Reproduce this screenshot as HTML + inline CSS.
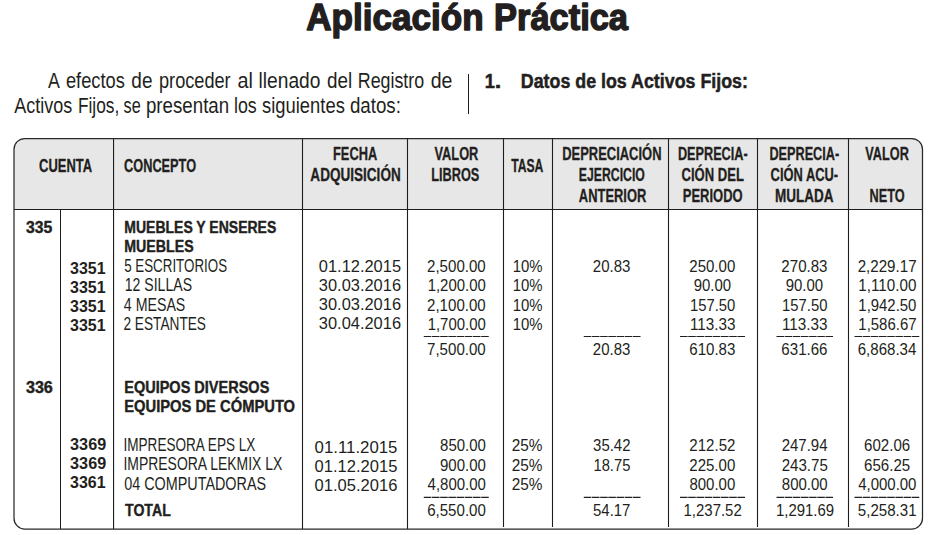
<!DOCTYPE html>
<html lang="es"><head><meta charset="utf-8"><title>Aplicación Práctica</title>
<style>html,body{margin:0;padding:0;background:#fff}body{width:929px;height:535px;overflow:hidden}svg{display:block}text{font-family:"Liberation Sans",sans-serif;fill:#231f20;white-space:pre}.b{font-weight:700}.ln{stroke:#1f1c1d;stroke-width:1.1;fill:none}</style></head><body>
<svg width="929" height="535" viewBox="0 0 929 535">
<rect width="929" height="535" fill="#fff"/>
<path d="M14 209.5 V149.3 A10.8 10.8 0 0 1 24.8 138.5 H911.7 A10.8 10.8 0 0 1 922.5 149.3 V209.5 Z" fill="#e7e7e7"/>
<line class="ln" x1="468.5" y1="74" x2="468.5" y2="114" style="stroke-width:1"/>
<line class="ln" x1="14" y1="209.5" x2="922.5" y2="209.5"/>
<line class="ln" x1="113.55" y1="138.5" x2="113.55" y2="529"/>
<line class="ln" x1="302.5" y1="138.5" x2="302.5" y2="529"/>
<line class="ln" x1="407.5" y1="138.5" x2="407.5" y2="529"/>
<line class="ln" x1="503.5" y1="138.5" x2="503.5" y2="527"/>
<line class="ln" x1="552.5" y1="138.5" x2="552.5" y2="527"/>
<line class="ln" x1="668.5" y1="138.5" x2="668.5" y2="527"/>
<line class="ln" x1="757.5" y1="138.5" x2="757.5" y2="527"/>
<line class="ln" x1="848.5" y1="138.5" x2="848.5" y2="527"/>
<line class="ln" x1="60.5" y1="209.5" x2="60.5" y2="529" style="stroke-width:1"/>
<rect class="ln" x="14" y="138.5" width="908.5" height="390.5" rx="10.8" ry="10.8" style="stroke-width:1.25;stroke:#2b2829"/>
<line x1="423.75" y1="336.5" x2="488.75" y2="336.5" stroke="#231f20" stroke-width="1.2" stroke-dasharray="7.6 0.6"/>
<line x1="583.75" y1="336.5" x2="640.5" y2="336.5" stroke="#231f20" stroke-width="1.2" stroke-dasharray="7.59286 0.6"/>
<line x1="680" y1="336.5" x2="745" y2="336.5" stroke="#231f20" stroke-width="1.2" stroke-dasharray="7.6 0.6"/>
<line x1="776.5" y1="336.5" x2="833" y2="336.5" stroke="#231f20" stroke-width="1.2" stroke-dasharray="7.55714 0.6"/>
<line x1="854.5" y1="336.5" x2="919.3" y2="336.5" stroke="#231f20" stroke-width="1.2" stroke-dasharray="7.575 0.6"/>
<line x1="423.75" y1="497.3" x2="488.75" y2="497.3" stroke="#231f20" stroke-width="1.2" stroke-dasharray="7.6 0.6"/>
<line x1="583.75" y1="497.3" x2="640.5" y2="497.3" stroke="#231f20" stroke-width="1.2" stroke-dasharray="7.59286 0.6"/>
<line x1="680" y1="497.3" x2="745" y2="497.3" stroke="#231f20" stroke-width="1.2" stroke-dasharray="7.6 0.6"/>
<line x1="776.5" y1="497.3" x2="833" y2="497.3" stroke="#231f20" stroke-width="1.2" stroke-dasharray="7.55714 0.6"/>
<line x1="854.5" y1="497.3" x2="919.3" y2="497.3" stroke="#231f20" stroke-width="1.2" stroke-dasharray="7.575 0.6"/>
<text class="b" stroke="#231f20" stroke-width="1.5" stroke-linejoin="round" font-size="37.41" transform="translate(306.30 30.00) scale(0.9374 1)">Aplicación</text>
<text class="b" stroke="#231f20" stroke-width="1.5" stroke-linejoin="round" font-size="37.41" transform="translate(494.05 30.00) scale(0.9201 1)">Práctica</text>
<text font-size="22.17" transform="translate(48.10 88.00) scale(0.8010 1)">A</text>
<text font-size="22.17" transform="translate(65.97 88.00) scale(0.8234 1)">efectos</text>
<text font-size="22.17" transform="translate(131.34 88.00) scale(0.8572 1)">de</text>
<text font-size="22.17" transform="translate(159.01 88.00) scale(0.8196 1)">proceder</text>
<text font-size="22.17" transform="translate(237.41 88.00) scale(0.8938 1)">al</text>
<text font-size="22.17" transform="translate(258.55 88.00) scale(0.8661 1)">llenado</text>
<text font-size="22.17" transform="translate(326.94 88.00) scale(0.8527 1)">del</text>
<text font-size="22.17" transform="translate(357.77 88.00) scale(0.8049 1)">Registro</text>
<text font-size="22.17" transform="translate(430.72 88.00) scale(0.8791 1)">de</text>
<text font-size="22.17" transform="translate(14.20 113.00) scale(0.8120 1)">Activos</text>
<text font-size="22.17" transform="translate(77.91 113.00) scale(0.7816 1)">Fijos,</text>
<text font-size="22.17" transform="translate(123.59 113.00) scale(0.7334 1)">se</text>
<text font-size="22.17" transform="translate(145.98 113.00) scale(0.8433 1)">presentan</text>
<text font-size="22.17" transform="translate(233.94 113.00) scale(0.8037 1)">los</text>
<text font-size="22.17" transform="translate(262.04 113.00) scale(0.8303 1)">siguientes</text>
<text font-size="22.17" transform="translate(349.95 113.00) scale(0.8442 1)">datos:</text>
<text class="b" stroke="#231f20" stroke-width="0.5" stroke-linejoin="round" font-size="20.29" transform="translate(484.73 88.00) scale(0.8968 1)">1</text>
<text class="b" stroke="#231f20" stroke-width="0.5" stroke-linejoin="round" font-size="20.29" transform="translate(494.66 88.00) scale(1.1622 1)">.</text>
<text class="b" stroke="#231f20" stroke-width="0.5" stroke-linejoin="round" font-size="20.29" transform="translate(520.76 88.00) scale(0.8793 1)">Datos de los Activos Fijos:</text>
<text class="b" stroke="#231f20" stroke-width="0.3" stroke-linejoin="round" font-size="18.27" transform="translate(39.09 172.00) scale(0.7100 1)">CUENTA</text>
<text class="b" stroke="#231f20" stroke-width="0.3" stroke-linejoin="round" font-size="18.27" transform="translate(124.09 172.00) scale(0.6978 1)">CONCEPTO</text>
<text class="b" stroke="#231f20" stroke-width="0.3" stroke-linejoin="round" font-size="18.27" transform="translate(333.02 160.00) scale(0.7016 1)">FECHA</text>
<text class="b" stroke="#231f20" stroke-width="0.3" stroke-linejoin="round" font-size="18.27" transform="translate(310.34 180.75) scale(0.7425 1)">ADQUISICIÓN</text>
<text class="b" stroke="#231f20" stroke-width="0.3" stroke-linejoin="round" font-size="18.27" transform="translate(434.54 160.00) scale(0.7001 1)">VALOR</text>
<text class="b" stroke="#231f20" stroke-width="0.3" stroke-linejoin="round" font-size="18.27" transform="translate(431.28 180.75) scale(0.6966 1)">LIBROS</text>
<text class="b" stroke="#231f20" stroke-width="0.3" stroke-linejoin="round" font-size="18.27" transform="translate(511.23 172.00) scale(0.6653 1)">TASA</text>
<text class="b" stroke="#231f20" stroke-width="0.3" stroke-linejoin="round" font-size="18.27" transform="translate(562.26 159.75) scale(0.7084 1)">DEPRECIACIÓN</text>
<text class="b" stroke="#231f20" stroke-width="0.3" stroke-linejoin="round" font-size="18.27" transform="translate(578.80 180.75) scale(0.6707 1)">EJERCICIO</text>
<text class="b" stroke="#231f20" stroke-width="0.3" stroke-linejoin="round" font-size="18.27" transform="translate(578.85 201.75) scale(0.7075 1)">ANTERIOR</text>
<text class="b" stroke="#231f20" stroke-width="0.3" stroke-linejoin="round" font-size="18.27" transform="translate(677.88 159.75) scale(0.6954 1)">DEPRECIA-</text>
<text class="b" stroke="#231f20" stroke-width="0.3" stroke-linejoin="round" font-size="18.27" transform="translate(681.59 180.75) scale(0.7141 1)">CIÓN DEL</text>
<text class="b" stroke="#231f20" stroke-width="0.3" stroke-linejoin="round" font-size="18.27" transform="translate(682.76 201.75) scale(0.7111 1)">PERIODO</text>
<text class="b" stroke="#231f20" stroke-width="0.3" stroke-linejoin="round" font-size="18.27" transform="translate(769.38 159.75) scale(0.6954 1)">DEPRECIA-</text>
<text class="b" stroke="#231f20" stroke-width="0.3" stroke-linejoin="round" font-size="18.27" transform="translate(770.59 180.75) scale(0.7061 1)">CIÓN ACU-</text>
<text class="b" stroke="#231f20" stroke-width="0.3" stroke-linejoin="round" font-size="18.27" transform="translate(775.03 201.75) scale(0.7409 1)">MULADA</text>
<text class="b" stroke="#231f20" stroke-width="0.3" stroke-linejoin="round" font-size="18.27" transform="translate(865.34 159.75) scale(0.6960 1)">VALOR</text>
<text class="b" stroke="#231f20" stroke-width="0.3" stroke-linejoin="round" font-size="18.27" transform="translate(869.48 201.75) scale(0.6980 1)">NETO</text>
<text class="b" stroke="#231f20" stroke-width="0.4" stroke-linejoin="round" font-size="16.12" transform="translate(25.88 233.00) scale(0.9795 1)">335</text>
<text class="b" stroke="#231f20" stroke-width="0.4" stroke-linejoin="round" font-size="16.12" transform="translate(25.88 393.00) scale(1.0045 1)">336</text>
<text class="b" stroke="#231f20" stroke-width="0.4" stroke-linejoin="round" font-size="16.12" transform="translate(124.26 233.00) scale(0.8694 1)">MUEBLES Y ENSERES</text>
<text class="b" stroke="#231f20" stroke-width="0.4" stroke-linejoin="round" font-size="16.12" transform="translate(124.25 252.00) scale(0.8808 1)">MUEBLES</text>
<text class="b" stroke="#231f20" stroke-width="0.4" stroke-linejoin="round" font-size="16.12" transform="translate(124.24 393.00) scale(0.9003 1)">EQUIPOS DIVERSOS</text>
<text class="b" stroke="#231f20" stroke-width="0.4" stroke-linejoin="round" font-size="16.12" transform="translate(124.22 412.00) scale(0.9149 1)">EQUIPOS DE CÓMPUTO</text>
<text class="b" stroke="#231f20" stroke-width="0.4" stroke-linejoin="round" font-size="16.12" transform="translate(125.03 516.00) scale(0.8763 1)">TOTAL</text>
<text class="b" font-size="16.00" transform="translate(70.08 274.00) scale(0.9984 1)">3351</text>
<text class="b" font-size="16.00" transform="translate(70.08 293.00) scale(0.9984 1)">3351</text>
<text class="b" font-size="16.00" transform="translate(70.08 312.00) scale(0.9984 1)">3351</text>
<text class="b" font-size="16.00" transform="translate(70.08 331.00) scale(0.9984 1)">3351</text>
<text class="b" font-size="16.00" transform="translate(70.08 450.00) scale(1.0145 1)">3369</text>
<text class="b" font-size="16.00" transform="translate(70.08 469.00) scale(1.0145 1)">3369</text>
<text class="b" font-size="16.00" transform="translate(70.08 488.00) scale(0.9984 1)">3361</text>
<text font-size="17.83" transform="translate(124.17 272.00) scale(0.7491 1)">5 ESCRITORIOS</text>
<text font-size="17.83" transform="translate(124.74 291.00) scale(0.7902 1)">12 SILLAS</text>
<text font-size="17.83" transform="translate(123.82 311.00) scale(0.7962 1)">4 MESAS</text>
<text font-size="17.83" transform="translate(123.42 330.00) scale(0.7679 1)">2 ESTANTES</text>
<text font-size="17.83" transform="translate(123.48 451.00) scale(0.7614 1)">IMPRESORA EPS LX</text>
<text font-size="17.83" transform="translate(123.45 470.00) scale(0.7818 1)">IMPRESORA LEKMIX LX</text>
<text font-size="17.83" transform="translate(124.20 490.00) scale(0.8064 1)">04 COMPUTADORAS</text>
<text font-size="16.40" transform="translate(318.82 272.00) scale(1.0021 1)">01.12.2015</text>
<text font-size="16.40" transform="translate(318.82 291.00) scale(1.0021 1)">30.03.2016</text>
<text font-size="16.40" transform="translate(318.82 310.00) scale(1.0021 1)">30.03.2016</text>
<text font-size="16.40" transform="translate(318.82 329.00) scale(1.0021 1)">30.04.2016</text>
<text font-size="16.40" transform="translate(314.61 453.00) scale(1.0249 1)">01.11.2015</text>
<text font-size="16.40" transform="translate(314.62 472.00) scale(1.0095 1)">01.12.2015</text>
<text font-size="16.40" transform="translate(314.62 491.00) scale(1.0095 1)">01.05.2016</text>
<text font-size="15.65" transform="translate(427.04 272.00) scale(0.9651 1)">2,500.00</text>
<text font-size="15.65" transform="translate(427.68 291.00) scale(0.9546 1)">1,200.00</text>
<text font-size="15.65" transform="translate(427.04 311.00) scale(0.9651 1)">2,100.00</text>
<text font-size="15.65" transform="translate(427.68 330.00) scale(0.9546 1)">1,700.00</text>
<text font-size="15.65" transform="translate(427.04 355.00) scale(0.9651 1)">7,500.00</text>
<text font-size="15.65" transform="translate(440.05 451.00) scale(0.9586 1)">850.00</text>
<text font-size="15.65" transform="translate(439.97 471.00) scale(0.9602 1)">900.00</text>
<text font-size="15.65" transform="translate(427.60 490.00) scale(0.9576 1)">4,800.00</text>
<text font-size="15.65" transform="translate(427.14 516.00) scale(0.9651 1)">6,550.00</text>
<text font-size="15.65" transform="translate(512.63 272.00) scale(0.9538 1)">10%</text>
<text font-size="15.65" transform="translate(512.63 291.00) scale(0.9538 1)">10%</text>
<text font-size="15.65" transform="translate(512.63 311.00) scale(0.9538 1)">10%</text>
<text font-size="15.65" transform="translate(512.63 330.00) scale(0.9538 1)">10%</text>
<text font-size="15.65" transform="translate(511.73 451.00) scale(0.9830 1)">25%</text>
<text font-size="15.65" transform="translate(511.73 471.00) scale(0.9830 1)">25%</text>
<text font-size="15.65" transform="translate(511.73 490.00) scale(0.9830 1)">25%</text>
<text font-size="15.65" transform="translate(592.85 272.00) scale(0.9591 1)">20.83</text>
<text font-size="15.65" transform="translate(592.85 355.00) scale(0.9591 1)">20.83</text>
<text font-size="15.65" transform="translate(593.08 451.00) scale(0.9552 1)">35.42</text>
<text font-size="15.65" transform="translate(593.49 471.00) scale(0.9424 1)">18.75</text>
<text font-size="15.65" transform="translate(593.00 516.00) scale(0.9572 1)">54.17</text>
<text font-size="15.65" transform="translate(689.27 272.00) scale(0.9618 1)">250.00</text>
<text font-size="15.65" transform="translate(693.63 291.00) scale(0.9552 1)">90.00</text>
<text font-size="15.65" transform="translate(689.91 311.00) scale(0.9483 1)">157.50</text>
<text font-size="15.65" transform="translate(689.88 330.00) scale(0.9745 1)">113.33</text>
<text font-size="15.65" transform="translate(689.27 355.00) scale(0.9635 1)">610.83</text>
<text font-size="15.65" transform="translate(689.27 451.00) scale(0.9651 1)">212.52</text>
<text font-size="15.65" transform="translate(689.27 471.00) scale(0.9618 1)">225.00</text>
<text font-size="15.65" transform="translate(689.42 490.00) scale(0.9586 1)">800.00</text>
<text font-size="15.65" transform="translate(683.53 516.00) scale(0.9571 1)">1,237.52</text>
<text font-size="15.65" transform="translate(781.37 272.00) scale(0.9635 1)">270.83</text>
<text font-size="15.65" transform="translate(785.73 291.00) scale(0.9552 1)">90.00</text>
<text font-size="15.65" transform="translate(782.01 311.00) scale(0.9483 1)">157.50</text>
<text font-size="15.65" transform="translate(781.98 330.00) scale(0.9745 1)">113.33</text>
<text font-size="15.65" transform="translate(781.37 355.00) scale(0.9635 1)">631.66</text>
<text font-size="15.65" transform="translate(781.67 451.00) scale(0.9586 1)">247.94</text>
<text font-size="15.65" transform="translate(781.67 471.00) scale(0.9635 1)">243.75</text>
<text font-size="15.65" transform="translate(781.82 490.00) scale(0.9586 1)">800.00</text>
<text font-size="15.65" transform="translate(775.93 516.00) scale(0.9571 1)">1,291.69</text>
<text font-size="15.65" transform="translate(857.69 272.00) scale(0.9676 1)">2,229.17</text>
<text font-size="15.65" transform="translate(858.31 291.00) scale(0.9737 1)">1,110.00</text>
<text font-size="15.65" transform="translate(858.33 311.00) scale(0.9546 1)">1,942.50</text>
<text font-size="15.65" transform="translate(858.33 330.00) scale(0.9571 1)">1,586.67</text>
<text font-size="15.65" transform="translate(857.70 355.00) scale(0.9626 1)">6,868.34</text>
<text font-size="15.65" transform="translate(864.07 451.00) scale(0.9635 1)">602.06</text>
<text font-size="15.65" transform="translate(864.07 471.00) scale(0.9635 1)">656.25</text>
<text font-size="15.65" transform="translate(858.15 490.00) scale(0.9576 1)">4,000.00</text>
<text font-size="15.65" transform="translate(857.85 516.00) scale(0.9651 1)">5,258.31</text>
</svg></body></html>
